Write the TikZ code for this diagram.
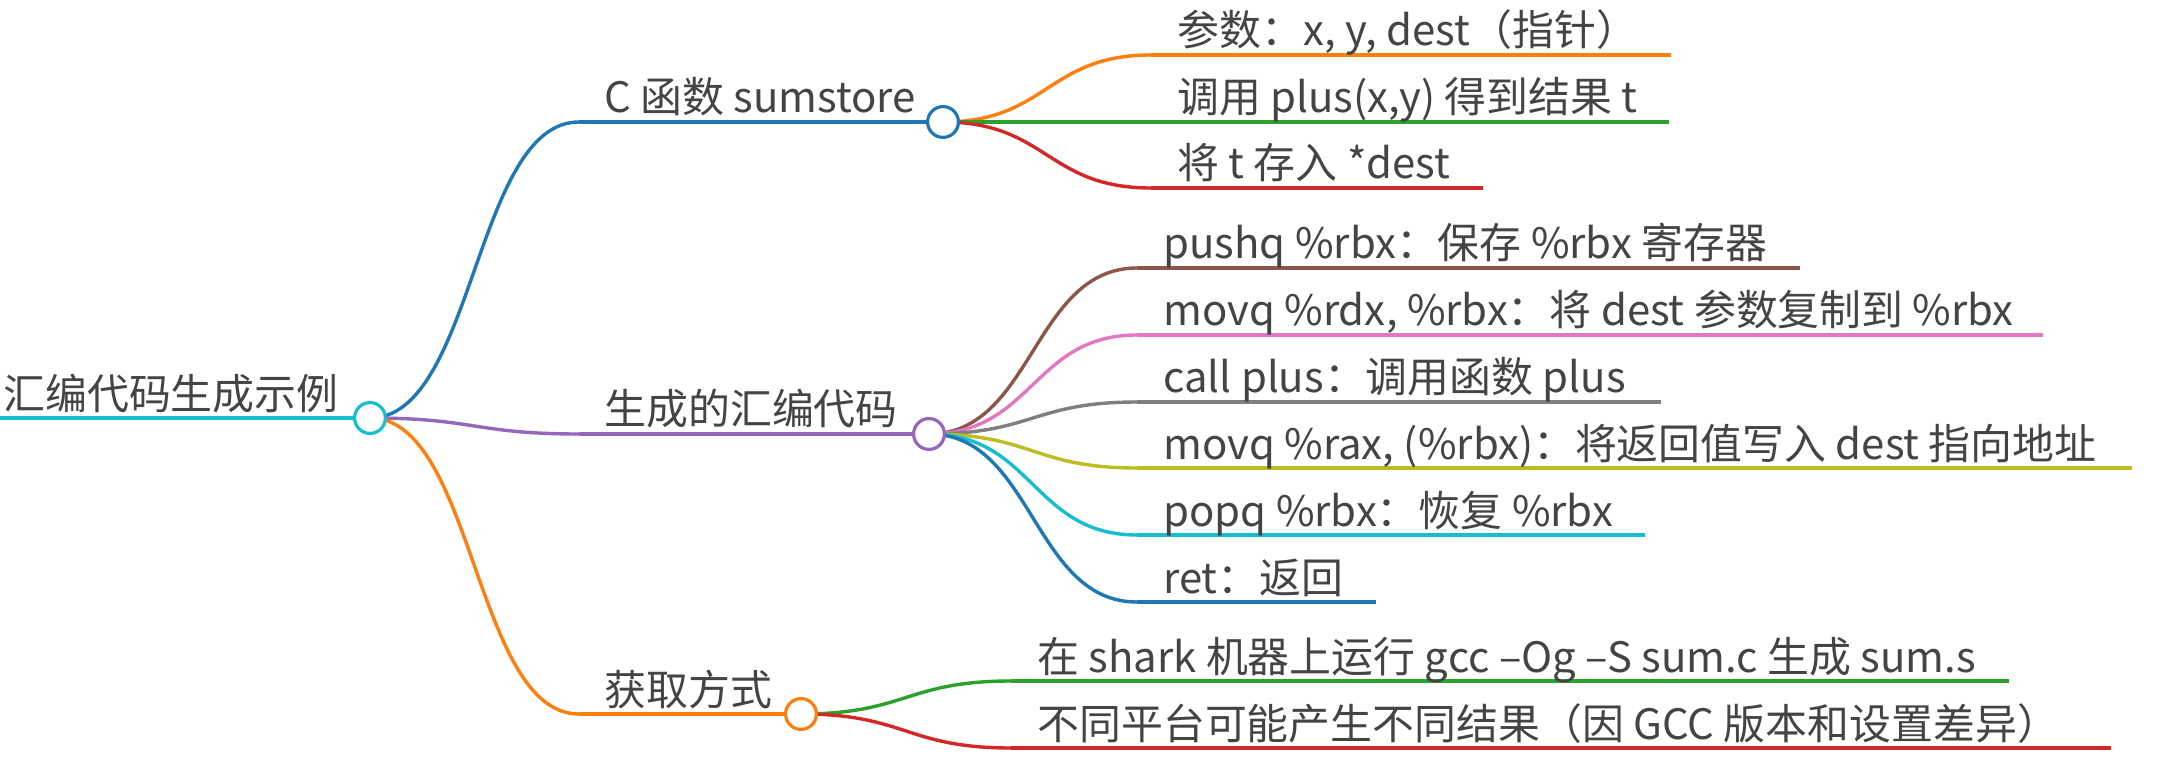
\documentclass[tikz,border=0pt]{standalone}
\usepackage{fontspec}
\setmainfont{Noto Sans CJK SC}
\usetikzlibrary{calc}
\definecolor{cBlue}{HTML}{1F77B4}
\definecolor{cOrange}{HTML}{FF7F0E}
\definecolor{cGreen}{HTML}{2CA02C}
\definecolor{cRed}{HTML}{D62728}
\definecolor{cPurple}{HTML}{9467BD}
\definecolor{cBrown}{HTML}{8C564B}
\definecolor{cPink}{HTML}{E377C2}
\definecolor{cGray}{HTML}{7F7F7F}
\definecolor{cOlive}{HTML}{BCBD22}
\definecolor{cCyan}{HTML}{17BECF}
\definecolor{cText}{HTML}{444444}
\tikzset{
  lnk/.style={line width=1.7pt},
  circ/.style={circle, draw, fill=white, line width=1.6pt, minimum size=15.4pt, inner sep=0pt},
  lbl/.style={anchor=base west, inner sep=0pt, text=cText, font=\fontsize{20.95pt}{25pt}\selectfont},
}
\newcommand\mmlink[3]{\draw[lnk,#3] let \p1=(#1), \p2=(#2) in (\p1) .. controls ({0.5*\x1+0.5*\x2},\y1) and ({0.5*\x1+0.5*\x2},\y2) .. (\p2);}
\begin{document}
\begin{tikzpicture}[x=0.5pt,y=-0.5pt]
\useasboundingbox (0,0) rectangle (2160,775);
% positions
\coordinate (rs) at (0,418);
\coordinate (pR) at (370,418);
\coordinate (Cs) at (579,122); \coordinate (pC) at (943,122);
\coordinate (As) at (579,434); \coordinate (pA) at (929,434);
\coordinate (Gs) at (579,714); \coordinate (pG) at (801,714);
\coordinate (C1s) at (1151,55);  \coordinate (C1e) at (1671,55);
\coordinate (C2s) at (1151,122); \coordinate (C2e) at (1669,122);
\coordinate (C3s) at (1151,188); \coordinate (C3e) at (1483,188);
\coordinate (A1s) at (1137,268); \coordinate (A1e) at (1800,268);
\coordinate (A2s) at (1137,335); \coordinate (A2e) at (2043,335);
\coordinate (A3s) at (1137,402); \coordinate (A3e) at (1661,402);
\coordinate (A4s) at (1137,468); \coordinate (A4e) at (2132,468);
\coordinate (A5s) at (1137,535); \coordinate (A5e) at (1645,535);
\coordinate (A6s) at (1137,602); \coordinate (A6e) at (1376,602);
\coordinate (G1s) at (1011,681); \coordinate (G1e) at (2009,681);
\coordinate (G2s) at (1011,748); \coordinate (G2e) at (2111,748);
% underlines
\draw[lnk,cCyan] (rs) -- (pR);
\draw[lnk,cBlue] (Cs) -- (pC);
\draw[lnk,cPurple] (As) -- (pA);
\draw[lnk,cOrange] (Gs) -- (pG);
\draw[lnk,cOrange] (C1s) -- (C1e);
\draw[lnk,cGreen] (C2s) -- (C2e);
\draw[lnk,cRed] (C3s) -- (C3e);
\draw[lnk,cBrown] (A1s) -- (A1e);
\draw[lnk,cPink] (A2s) -- (A2e);
\draw[lnk,cGray] (A3s) -- (A3e);
\draw[lnk,cOlive] (A4s) -- (A4e);
\draw[lnk,cCyan] (A5s) -- (A5e);
\draw[lnk,cBlue] (A6s) -- (A6e);
\draw[lnk,cGreen] (G1s) -- (G1e);
\draw[lnk,cRed] (G2s) -- (G2e);
% links
\mmlink{pR}{Cs}{cBlue}
\mmlink{pR}{As}{cPurple}
\mmlink{pR}{Gs}{cOrange}
\mmlink{pC}{C1s}{cOrange}
\mmlink{pC}{C2s}{cGreen}
\mmlink{pC}{C3s}{cRed}
\mmlink{pA}{A1s}{cBrown}
\mmlink{pA}{A2s}{cPink}
\mmlink{pA}{A3s}{cGray}
\mmlink{pA}{A4s}{cOlive}
\mmlink{pA}{A5s}{cCyan}
\mmlink{pA}{A6s}{cBlue}
\mmlink{pG}{G1s}{cGreen}
\mmlink{pG}{G2s}{cRed}
% circles
\node[circ,draw=cCyan] (nR) at (pR) {};
\node[circ,draw=cBlue] (nC) at (pC) {};
\node[circ,draw=cPurple] (nA) at (pA) {};
\node[circ,draw=cOrange] (nG) at (pG) {};
% labels
\node[lbl] (tR) at (3,409) {汇编代码生成示例};
\node[lbl] (tC) at (604,113) {C 函数 sumstore};
\node[lbl] (tA) at (604,425) {生成的汇编代码};
\node[lbl] (tG) at (604,705) {获取方式};
\node[lbl] (tC1) at (1177,46) {参数：x, y, dest（指针）};
\node[lbl] (tC2) at (1177,113) {调用 plus(x,y) 得到结果 t};
\node[lbl] (tC3) at (1177,179) {将 t 存入 *dest};
\node[lbl] (tA1) at (1163,259) {pushq \%rbx：保存 \%rbx 寄存器};
\node[lbl] (tA2) at (1163,326) {movq \%rdx, \%rbx：将 dest 参数复制到 \%rbx};
\node[lbl] (tA3) at (1163,393) {call plus：调用函数 plus};
\node[lbl] (tA4) at (1163,459) {movq \%rax, (\%rbx)：将返回值写入 dest 指向地址};
\node[lbl] (tA5) at (1163,526) {popq \%rbx：恢复 \%rbx};
\node[lbl] (tA6) at (1163,593) {ret：返回};
\node[lbl] (tG1) at (1037,672) {在 shark 机器上运行 gcc –Og –S sum.c 生成 sum.s};
\node[lbl] (tG2) at (1037,739) {不同平台可能产生不同结果（因 GCC 版本和设置差异）};
\end{tikzpicture}
\end{document}
